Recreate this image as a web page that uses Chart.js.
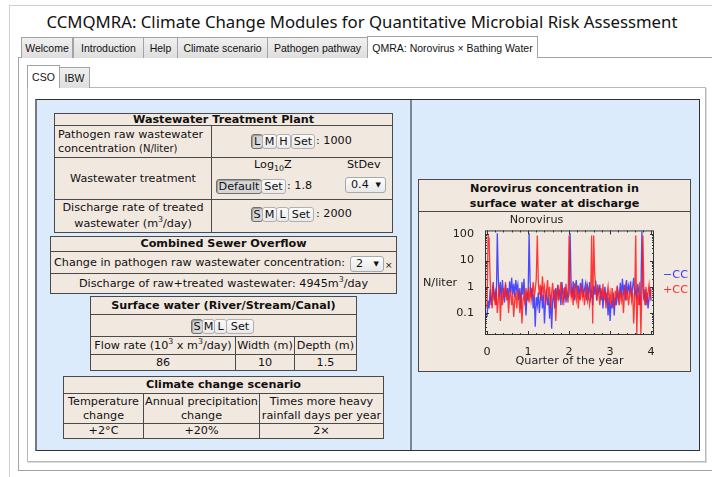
<!DOCTYPE html>
<html>
<head>
<meta charset="utf-8">
<script src="https://cdn.jsdelivr.net/npm/chart.js@4.4.1/dist/chart.umd.min.js"></script>
<style>
  body { margin: 0; background: #fff; }
  #root { position: relative; width: 712px; height: 477px; overflow: hidden; background: #fff;
          font-family: "DejaVu Sans", Verdana, sans-serif; font-size: 11.2px; color: #111; }
  #root div { position: absolute; box-sizing: border-box; }
  .cell { border: 1px solid #4a4a4a; background: #f1e8e0; display: flex; align-items: center;
          justify-content: center; text-align: center; line-height: 14px; white-space: nowrap; }
  .cell > span { display: block; }
  .bold { font-weight: bold; }
  .tab { border: 1px solid #a3a3a3; border-bottom: none; background: linear-gradient(#f0f0f0, #dedede);
         font-family: "Liberation Sans", Arial, sans-serif; font-size: 10.5px; display: flex;
         align-items: center; justify-content: center; white-space: nowrap; color: #111; }
  .tab.on { background: #fff; }
  .btn { border: 1px solid #b0b0b0; border-radius: 3px; background: linear-gradient(#fbfbfb, #e9e9e9);
         display: flex; align-items: center; justify-content: center; line-height: 13px; }
  .btn.on { background: #d6d6d6; border-color: #6f6f6f; box-shadow: inset 1px 1px 1px #999; }
  .txt { white-space: nowrap; line-height: 14px; }
  .drop { border: 1px solid #a8a8a8; border-radius: 3px; background: linear-gradient(#fdfdfd, #e8e8e8);
          line-height: 14px; padding-left: 5px; }
  .drop .arr { position: absolute; right: 4px; top: 0; font-size: 7px; }
  sup, sub { font-size: 70%; line-height: 0; }
</style>
</head>
<body>
<div id="root"></div>
<script>
// quarter-of-year grid (x) and Norovirus concentration (N/liter)
const quarterStep = 0.025;
const xTickValues = [0, 1, 2, 3, 4];
const yTickValues = [0.1, 1, 10, 100];
const seriesNames = ['\u2212CC', '+CC'];

const withoutCC = [
  0.07, 0.3, 0.15, 0.8, 0.2, 0.5, 1.5, 0.3, 0.6, 0.2,
  110, 2, 0.4, 1.5, 0.3, 1.8, 0.5, 0.25, 1.2, 0.4,
  0.9, 0.3, 1.6, 0.6, 2.2, 0.5, 1.3, 0.4, 1.8, 0.7,
  1.2, 0.3, 0.9, 0.15, 1.5, 0.5, 2.0, 0.35, 0.08, 0.6,
  0.3, 110, 1.5, 0.4, 0.9, 0.15, 0.5, 0.03, 0.4, 0.2,
  0.6, 0.1, 0.35, 1.0, 0.15, 0.5, 0.04, 0.3, 0.8, 0.2,
  0.4, 0.06, 0.5, 0.025, 0.3, 0.7, 0.15, 0.9, 0.3, 1.2,
  0.4, 0.8, 0.2, 1.5, 0.5, 0.3, 1.0, 0.25, 0.6, 0.4,
  0.5, 110, 1.2, 0.4, 1.6, 0.3, 0.9, 1.8, 0.5, 1.1,
  0.35, 1.4, 0.6, 2.0, 0.4, 0.8, 1.3, 0.3, 1.0, 0.5,
  1.5, 0.4, 0.7, 0.2, 1.1, 0.5, 1.7, 0.3, 0.9, 0.6,
  1.2, 0.3, 0.7, 0.15, 0.5, 1.0, 0.25, 0.6, 0.08, 0.4,
  0.05, 0.3, 0.15, 0.6, 0.08, 0.4, 0.2, 1.0, 0.3, 0.5,
  1.4, 0.4, 2.0, 0.6, 1.2, 0.3, 1.8, 0.5, 1.1, 0.7,
  1.6, 0.4, 1.0, 2.2, 0.5, 0.8, 0.3, 1.3, 0.6, 0.2,
  0.5, 130, 1.0, 0.3, 0.8, 0.2, 0.6, 0.15, 0.4, 0.9, 0.3
];
const withCC = [
  0.15, 90, 70, 2, 0.3, 0.15, 1.2, 0.4, 0.2, 0.8,
  0.1, 0.3, 1.2, 0.05, 0.5, 0.2, 0.9, 0.4, 1.5, 0.3,
  0.6, 0.1, 0.4, 0.8, 0.2, 0.5, 0.07, 0.3, 0.6, 0.15,
  0.8, 0.35, 0.1, 0.6, 0.04, 0.3, 0.5, 0.2, 0.9, 0.4,
  0.7, 0.25, 1.0, 0.3, 0.6, 1.5, 0.4, 0.8, 2.0, 90,
  1.5, 0.5, 1.2, 0.3, 2.5, 0.6, 1.0, 0.2, 0.7, 1.8,
  0.4, 1.0, 0.15, 0.6, 1.4, 0.3, 0.8, 0.05, 0.5, 1.1,
  0.3, 0.7, 1.5, 0.4, 0.2, 0.9, 0.35, 1.3, 0.5, 0.25,
  90, 1.0, 0.4, 0.8, 0.2, 1.4, 0.5, 0.3, 1.1, 0.15,
  0.6, 0.3, 1.2, 0.4, 0.8, 0.2, 0.5, 1.0, 0.3, 0.6,
  0.2, 0.4, 90, 0.04, 90, 3, 0.8, 0.3, 1.2, 0.5,
  0.2, 0.9, 0.4, 1.3, 0.3, 0.7, 0.15, 0.5, 1.0, 0.3,
  0.6, 0.2, 0.9, 0.4, 0.15, 0.7, 0.3, 1.1, 0.5, 0.2,
  0.8, 0.3, 0.6, 0.1, 0.5, 1.0, 0.3, 0.7, 0.2, 0.5,
  0.9, 0.3, 0.6, 0.04, 0.4, 90, 0.015, 0.5, 0.2, 1.5,
  0.015, 0.8, 90, 0.5, 0.2, 1.0, 0.3, 0.6, 1.2, 0.4, 0.8
];

const root = document.getElementById('root');

// small helper to drop a positioned box on the page
function box(x, y, w, h, cls, html, style) {
    const d = document.createElement('div');
    d.className = cls || '';
    d.style.cssText = `left:${x}px;top:${y}px;width:${w}px;height:${h}px;` + (style || '');
    if (html) d.innerHTML = '<span>' + html + '</span>';
    root.appendChild(d);
    return d;
}
function text(x, y, html, style) {
    const d = document.createElement('div');
    d.className = 'txt';
    d.style.cssText = `left:${x}px;top:${y - 7}px;` + (style || '');
    d.innerHTML = html;
    root.appendChild(d);
    return d;
}

// --- window frame, title and tabs ---
box(9, 5, 720, 490, '', '', 'border:1px solid #cfcfcf;');
const title = text(362, 22, 'CCMQMRA: Climate Change Modules for Quantitative Microbial Risk Assessment',
    'font-family:"Noto Sans",sans-serif;font-size:18px;line-height:22px;top:11px;color:#111;');

box(18, 57, 720, 414, '', '', 'border:1px solid #a3a3a3;');
const outerTabs = [
    ['Welcome', 21, 52], ['Introduction', 73, 71], ['Help', 143, 35],
    ['Climate scenario', 177, 91], ['Pathogen pathway', 267, 101]
];
outerTabs.forEach(t => box(t[1], 37, t[2], 21, 'tab', t[0]));
box(367, 36, 171, 22, 'tab on', 'QMRA: Norovirus \u00d7 Bathing Water');

box(27, 87, 679, 375, '', '', 'border:1px solid #b8b8b8;box-shadow:1px 1px 0 #ddd;');
box(27, 65, 33, 23, 'tab on', 'CSO');
box(59, 67, 31, 21, 'tab', 'IBW');

// --- blue panel ---
box(35, 99, 665, 352, '', '', 'background:#dcebfc;border:1px solid #2e333a;border-left:2px solid #6f7b88;');
box(410, 100, 2, 350, '', '', 'background:#7b8796;');

// --- Wastewater Treatment Plant ---
box(54, 113, 339, 13, 'cell bold', 'Wastewater Treatment Plant', 'line-height:11px;');
box(54, 125, 158, 33, 'cell', 'Pathogen raw wastewater<br>concentration <span style="font-size:10px">(N/liter)</span>',
    'justify-content:flex-start;text-align:left;padding-left:3px;');
box(211, 125, 182, 33, 'cell');
box(54, 157, 158, 43, 'cell', 'Wastewater treatment');
box(211, 157, 182, 43, 'cell');
box(54, 199, 158, 34, 'cell', 'Discharge rate of treated<br>wastewater (m<sup>3</sup>/day)', 'line-height:16px;');
box(211, 199, 182, 34, 'cell');

box(251, 134, 12, 15, 'btn on', 'L');
box(262, 134, 15, 15, 'btn', 'M');
box(276, 134, 15, 15, 'btn', 'H');
box(291, 134, 24, 15, 'btn', 'Set');
text(316, 141, ': 1000');

text(254, 165, 'Log<sub>10</sub>Z');
text(347, 165, 'StDev');
box(216, 179, 46, 15, 'btn on', 'Default');
box(261, 179, 25, 15, 'btn', 'Set');
text(287, 186, ': 1.8');
box(345, 177, 41, 16, 'drop', '0.4<i class="arr" style="font-style:normal">\u25bc</i>');

box(251, 207, 12, 15, 'btn on', 'S');
box(262, 207, 15, 15, 'btn', 'M');
box(276, 207, 13, 15, 'btn', 'L');
box(288, 207, 26, 15, 'btn', 'Set');
text(316, 214, ': 2000');

// --- Combined Sewer Overflow ---
box(50, 236, 347, 16, 'cell bold', 'Combined Sewer Overflow');
box(50, 251, 347, 23, 'cell', 'Change in pathogen raw wastewater concentration:',
    'justify-content:flex-start;padding-left:3px;');
box(350, 256, 34, 16, 'drop', '2<i class="arr" style="font-style:normal">\u25bc</i>');
text(385, 265, '\u00d7', 'font-size:9px;');
box(50, 273, 347, 21, 'cell', 'Discharge of raw+treated wastewater: 4945m<sup>3</sup>/day');

// --- Surface water ---
box(90, 296, 267, 19, 'cell bold', 'Surface water (River/Stream/Canal)');
box(90, 314, 267, 23, 'cell');
box(191, 319, 12, 15, 'btn on', 'S');
box(202, 319, 13, 15, 'btn', 'M');
box(214, 319, 13, 15, 'btn', 'L');
box(226, 319, 28, 15, 'btn', 'Set');
box(90, 336, 146, 19, 'cell', 'Flow rate (10<sup>3</sup> x m<sup>3</sup>/day)');
box(235, 336, 60, 19, 'cell', 'Width (m)');
box(294, 336, 63, 19, 'cell', 'Depth (m)');
box(90, 354, 146, 17, 'cell', '86');
box(235, 354, 60, 17, 'cell', '10');
box(294, 354, 63, 17, 'cell', '1.5');

// --- Climate change scenario ---
box(63, 376, 321, 18, 'cell bold', 'Climate change scenario');
box(63, 393, 81, 31, 'cell', 'Temperature<br>change');
box(143, 393, 117, 31, 'cell', 'Annual precipitation<br>change');
box(259, 393, 125, 31, 'cell', 'Times more heavy<br>rainfall days per year');
box(63, 423, 81, 16, 'cell', '+2\u00b0C');
box(143, 423, 117, 16, 'cell', '+20%');
box(259, 423, 125, 16, 'cell', '2\u00d7');

// --- chart panel ---
box(418, 179, 273, 193, 'cell');
box(418, 179, 273, 33, 'cell bold', 'Norovirus concentration in<br>surface water at discharge', 'line-height:15px;');
const holder = box(419, 212, 271, 158, '');
holder.innerHTML = '<canvas id="chart" width="271" height="158"></canvas>';

// fit the title to its width in the reference
const tw = title.offsetWidth;
title.style.fontSize = (18 * 631 / tw) + 'px';
title.style.left = (362 - title.offsetWidth / 2) + 'px';

// --- Chart.js plot ---
const chartFont = { family: '"DejaVu Sans", Verdana, sans-serif', size: 11.2, weight: 'normal' };
const inkColor = '#222';

// Mathematica-style frame with inward ticks, plus side legend and y label
const framePlugin = {
    id: 'frame',
    afterDatasetsDraw(chart) {
        const { ctx, chartArea: a, scales } = chart;
        ctx.save();
        ctx.strokeStyle = '#333';
        ctx.lineWidth = 1;
        ctx.strokeRect(a.left + 0.5, a.top + 0.5, a.right - a.left - 1, a.bottom - a.top - 1);
        ctx.beginPath();
        for (let v = 0; v <= 4.0001; v += 0.2) {
            const px = Math.round(scales.x.getPixelForValue(v)) + 0.5;
            const len = Math.abs(v - Math.round(v)) < 1e-6 ? 4 : 2;
            ctx.moveTo(px, a.bottom); ctx.lineTo(px, a.bottom - len);
            ctx.moveTo(px, a.top); ctx.lineTo(px, a.top + len);
        }
        for (let e = -2; e <= 2; e++) {
            for (let m = 1; m <= 9; m++) {
                const v = m * Math.pow(10, e);
                if (v < scales.y.min || v > scales.y.max) continue;
                const py = Math.round(scales.y.getPixelForValue(v)) + 0.5;
                const len = m === 1 ? 4 : 2;
                ctx.moveTo(a.left, py); ctx.lineTo(a.left + len, py);
                ctx.moveTo(a.right, py); ctx.lineTo(a.right - len, py);
            }
        }
        ctx.stroke();
        ctx.restore();
    },
    afterDraw(chart) {
        const { ctx, chartArea: a } = chart;
        ctx.save();
        ctx.font = '11.2px "DejaVu Sans", Verdana, sans-serif';
        ctx.textBaseline = 'middle';
        ctx.textAlign = 'left';
        chart.data.datasets.forEach((ds, i) => {
            ctx.fillStyle = ds.legendColor;
            ctx.fillText(ds.label, a.right + 9, a.top + 45 + i * 15);
        });
        ctx.fillStyle = inkColor;
        ctx.fillText('N/liter', a.left - 62, (a.top + a.bottom) / 2);
        ctx.restore();
    }
};

const toPoints = arr => arr.map((v, i) => ({ x: i * quarterStep, y: v }));

new Chart(document.getElementById('chart'), {
    type: 'line',
    data: {
        datasets: [
            { label: seriesNames[0], data: toPoints(withoutCC), borderColor: 'rgba(45,45,255,0.85)',
              legendColor: '#3a3aff', borderWidth: 1.3, pointRadius: 0, tension: 0, order: 1 },
            { label: seriesNames[1], data: toPoints(withCC), borderColor: 'rgba(255,25,25,0.85)',
              legendColor: '#ff3030', borderWidth: 1.3, pointRadius: 0, tension: 0, order: 0 }
        ]
    },
    options: {
        responsive: false,
        animation: false,
        layout: { padding: { right: 36 } },
        plugins: {
            legend: { display: false },
            tooltip: { enabled: false },
            title: { display: true, text: 'Norovirus', font: chartFont, color: inkColor,
                     padding: { top: 1, bottom: 4 } }
        },
        scales: {
            x: {
                type: 'linear', min: -0.05, max: 4.07,
                grid: { display: false }, border: { display: false },
                afterBuildTicks: s => { s.ticks = xTickValues.map(v => ({ value: v })); },
                ticks: { font: chartFont, color: inkColor, padding: 2, maxRotation: 0 },
                title: { display: true, text: 'Quarter of the year', font: chartFont, color: inkColor,
                         padding: { top: 0, bottom: 2 } },
                afterFit: s => { s.height = 35; s.paddingLeft = 0; s.paddingRight = 0; }
            },
            y: {
                type: 'logarithmic', min: 0.0145, max: 140,
                grid: { display: false }, border: { display: false },
                afterBuildTicks: s => { s.ticks = yTickValues.map(v => ({ value: v })); },
                ticks: { font: chartFont, color: inkColor, padding: 3, callback: v => String(v) },
                afterFit: s => { s.width = 66; s.paddingTop = 0; s.paddingBottom = 0; }
            }
        }
    },
    plugins: [framePlugin]
});
</script>
</body>
</html>
